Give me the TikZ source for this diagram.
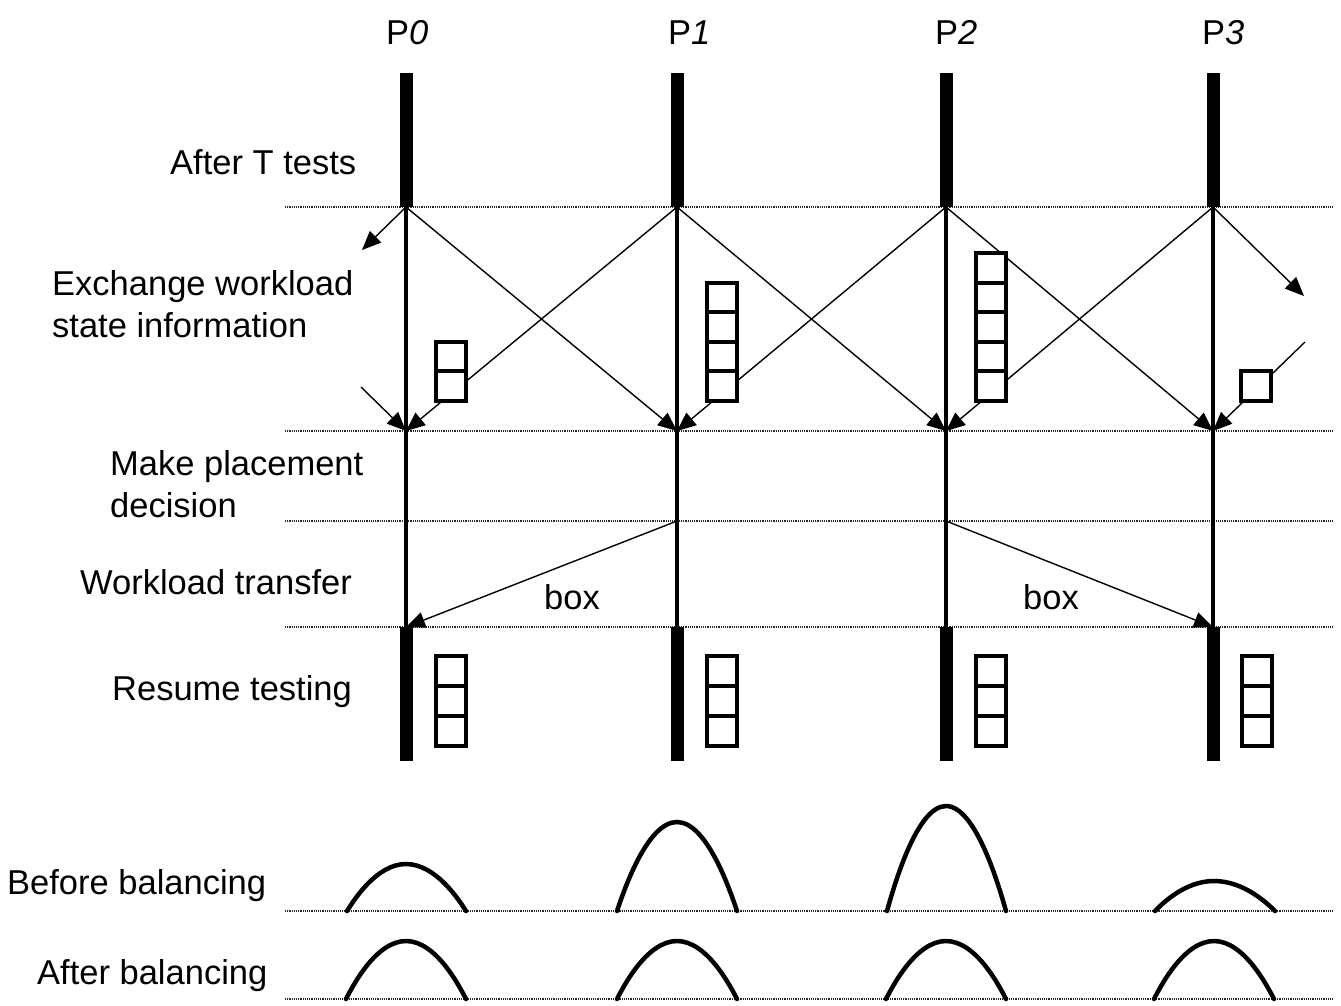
\documentclass[tikz,border=0pt]{standalone}
\usepackage{fontspec}
\setmainfont{Liberation Sans}
\usetikzlibrary{arrows.meta}
\begin{document}
\begin{tikzpicture}[x=1pt,y=-1pt,
  lbl/.style={inner sep=0pt, font=\fontsize{34.5}{42}\selectfont},
  guide/.style={line width=1.2pt, dash pattern=on 1.2pt off 1pt, black!85},
  msg/.style={line width=1.4pt, -{Triangle[length=19pt,width=16pt]}},
  bar/.style={line width=13pt},
  axis/.style={line width=3.5pt},
  cell/.style={draw, fill=white, line width=4pt, minimum width=30pt,
               minimum height=29.6pt, inner sep=0pt},
  load/.style={line width=4.5pt, line cap=round}]
\useasboundingbox (0,0) rectangle (1341,1005);

% phase separators
\foreach \y in {207,431,521,627,911,999}
  \draw[guide] (285,\y) -- (1333,\y);

% phase labels
\node[lbl, anchor=base west] (after-t) at (170,174) {After T tests};
\node[lbl, anchor=north west, align=left] (exchange) at (52,270)
  {Exchange workload\\state information};
\node[lbl, anchor=north west, align=left] (decide) at (110,450)
  {Make placement\\decision};
\node[lbl, anchor=base west] (transfer) at (80,594) {Workload transfer};
\node[lbl, anchor=base west] (resume) at (112,700) {Resume testing};
\node[lbl, anchor=base west] (before) at (7,894) {Before balancing};
\node[lbl, anchor=base west] (afterbal) at (37,984) {After balancing};

% processors: labels, busy bars and time axes
\foreach \i/\x/\lx in {0/406/386,1/677/668,2/946/935,3/1213/1202}{
  \node[lbl, anchor=base west] (p\i) at (\lx,44) {P\textit{\i}};
  \coordinate (t\i) at (\x,207);
  \coordinate (r\i) at (\x,431);
  \coordinate (d\i) at (\x,521);
  \coordinate (b\i) at (\x,627);
  \draw[bar] (\x,73) -- (t\i);
  \draw[axis] (t\i) -- (b\i);
  \draw[bar] (b\i) -- (\x,761);
}

% wrap-around ends of the ring exchange
\coordinate (w0) at (362,250);
\coordinate (wi0) at (361,387);
\coordinate (e3) at (1304,296);
\coordinate (ei3) at (1305,342);

% workload state exchange
\draw[msg] (t0) -- (w0);
\draw[msg] (wi0) -- (r0);
\draw[msg] (t0) -- (r1);
\draw[msg] (t1) -- (r0);
\draw[msg] (t1) -- (r2);
\draw[msg] (t2) -- (r1);
\draw[msg] (t2) -- (r3);
\draw[msg] (t3) -- (r2);
\draw[msg] (t3) -- (e3);
\draw[msg] (ei3) -- (r3);

% workload transfer
\draw[msg] (d1) -- (b0);
\draw[msg] (d2) -- (b3);
\node[lbl, anchor=base] (box1) at (572,609) {box};
\node[lbl, anchor=base] (box2) at (1051,609) {box};

% queued boxes carried with the state messages
\foreach \i/\x/\n in {0/451/2,1/722/4,2/991/5,3/1256/1}
  \foreach \k in {1,...,\n}
    \node[cell] (q\i-\k) at (\x,{401-29.6*(\k-0.5)}) {};

% boxes after transfer
\foreach \i/\x in {0/451,1/722,2/991,3/1257}
  \foreach \k in {1,2,3}
    \node[cell, minimum height=30pt] (s\i-\k) at (\x,{641+30*\k}) {};

% load before balancing
\draw[load] (347,911) parabola bend (406,864) (466,911);
\draw[load] (617,911) parabola bend (677,822) (737,911);
\draw[load] (887,911) parabola bend (946,806) (1006,911);
\draw[load] (1155,911) parabola bend (1214,881) (1275,911);

% load after balancing
\foreach \x in {406,677,946,1214}
  \draw[load] (\x-60,999) parabola bend (\x,941) (\x+60,999);
\end{tikzpicture}
\end{document}
